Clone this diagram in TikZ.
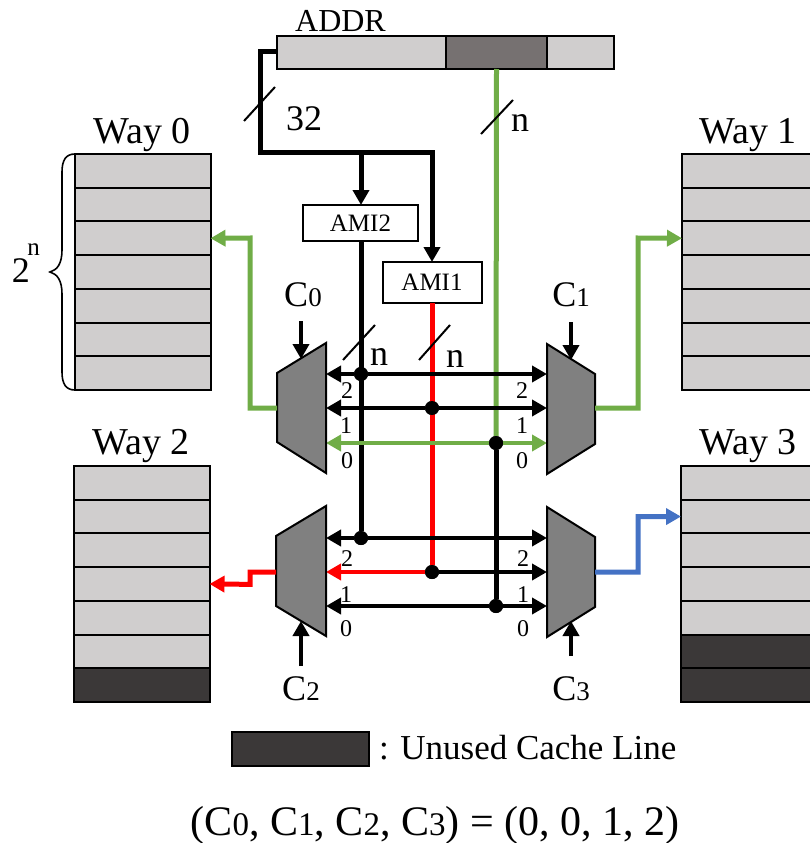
\documentclass[tikz,border=0pt]{standalone}
\usepackage{fontspec}
\setmainfont{Liberation Serif}
\usetikzlibrary{arrows.meta}
\newcommand\fsz[1]{\fontsize{#1}{#1}\selectfont}
\definecolor{lightcell}{HTML}{D0CECE}
\definecolor{midcell}{HTML}{767171}
\definecolor{darkcell}{HTML}{3B3838}
\definecolor{muxgray}{HTML}{808080}
\definecolor{lgreen}{HTML}{70AD47}
\definecolor{lblue}{HTML}{4472C4}
\tikzset{
  cell/.style={draw=black,fill=lightcell,line width=2pt,minimum width=135.5pt,minimum height=33.7pt,inner sep=0pt,outer sep=0pt,anchor=north west},
  unused/.style={cell,fill=darkcell},
  mux/.style={draw=black,fill=muxgray,line width=2pt,line join=miter},
  box/.style={draw=black,fill=white,line width=2pt,inner sep=0pt,outer sep=0pt,font=\fsz{25}},
  wire/.style={line width=4pt,line join=miter},
  feed/.style={line width=5pt,line join=miter},
  tri/.style={-{Triangle[length=15pt,width=16pt]}},
  slash/.style={line width=2pt},
  junction/.style={circle,fill=black,minimum size=14pt,inner sep=0pt,outer sep=0pt},
  lbl/.style={inner sep=0pt,outer sep=0pt},
  num/.style={lbl,font=\fsz{24}},
  big/.style={lbl,font=\fsz{36}}
}
\begin{document}
\begin{tikzpicture}[x=1pt,y=-1pt]
\clip (0,0) rectangle (810,843);
% ADDR
\node[cell,minimum width=169pt,minimum height=33pt] (addrA) at (277,36) {};
\node[cell,fill=midcell,minimum width=101pt,minimum height=33pt] (addrB) at (446,36) {};
\node[cell,minimum width=67pt,minimum height=33pt] (addrC) at (547,36) {};
\node[lbl,font=\fsz{32},anchor=base] at (340.5,32) {ADDR};
% Ways
\foreach \i in {0,...,6} {
  \node[cell] (wa\i) at (75,{154+33.7*\i}) {};
  \node[cell] (wb\i) at (682,{154+33.7*\i}) {};
}
\foreach \i in {0,...,5} \node[cell] (wc\i) at (74,{466+33.7*\i}) {};
\node[unused] (wc6) at (74,{466+33.7*6}) {};
\foreach \i in {0,...,4} \node[cell] (wd\i) at (681,{466+33.7*\i}) {};
\foreach \i in {5,6} \node[unused] (wd\i) at (681,{466+33.7*\i}) {};
\node[big,font=\fsz{38},anchor=base] at (142,143) {Way 0};
\node[big,font=\fsz{38},anchor=base] at (748,143) {Way 1};
\node[big,font=\fsz{38},anchor=base] at (141,454) {Way 2};
\node[big,font=\fsz{38},anchor=base] at (748,454) {Way 3};
% brace
\draw[line width=1.6pt] (75,154) .. controls (66,154) and (62,160) .. (62,172) -- (62,250)
  .. controls (62,264) and (57,270) .. (50,272) .. controls (57,274) and (62,280) .. (62,294)
  -- (62,372) .. controls (62,384) and (66,390) .. (75,390);
\node[big,anchor=base] at (21,282) {2};
\node[lbl,font=\fsz{25},anchor=base] at (33.5,255) {n};
% coordinates
\coordinate (bend0) at (260,52);
\coordinate (bend1) at (260,152);
\coordinate (bend2) at (432,152);
\coordinate (split) at (361,152);
\coordinate (m0o) at (277,408);
\coordinate (m1o) at (595,408);
\coordinate (m2o) at (276,572);
\coordinate (m3o) at (595,572);
\coordinate (m0a) at (326,374); \coordinate (m0b) at (326,408); \coordinate (m0c) at (326,443);
\coordinate (m1a) at (547,374); \coordinate (m1b) at (547,408); \coordinate (m1c) at (547,443);
\coordinate (m2a) at (326,538); \coordinate (m2b) at (326,572); \coordinate (m2c) at (326,606);
\coordinate (m3a) at (547,538); \coordinate (m3b) at (547,572); \coordinate (m3c) at (547,606);
% boxes
\node[box,minimum width=115pt,minimum height=36pt] (ami2) at (360.5,223) {AMI2};
\node[box,minimum width=99pt,minimum height=41pt] (ami1) at (432,282.5) {AMI1};
% junctions
\node[junction] (j1) at (361,374) {};
\node[junction] (j2) at (432,408) {};
\node[junction] (j3) at (496,443) {};
\node[junction] (j4) at (361,538) {};
\node[junction] (j5) at (432,572) {};
\node[junction] (j6) at (496,606) {};
% top wiring
\draw[feed,tri] (addrA.west |- bend0) -- (bend0) -- (bend1) -- (bend2) -- (ami1.north);
\draw[feed,tri] (split) -- (ami2.north -| split);
% vertical feeds
\draw[feed,black] (ami2.south -| split) -- (j4);
\draw[feed,red] (ami1.south) -- (j5);
\draw[feed,lgreen] (addrB.south) -- (j3);
\draw[feed,black] (j3) -- (j6);
% buses
\draw[wire,tri] (j1) -- (m0a);
\draw[wire,tri] (j1) -- (m1a);
\draw[wire,tri] (j2) -- (m0b);
\draw[wire,tri] (j2) -- (m1b);
\draw[wire,lgreen,tri] (j3) -- (m0c);
\draw[wire,lgreen,tri] (j3) -- (m1c);
\draw[wire,tri] (j4) -- (m2a);
\draw[wire,tri] (j4) -- (m3a);
\draw[wire,red,tri] (j5) -- (m2b);
\draw[wire,tri] (j5) -- (m3b);
\draw[wire,tri] (j6) -- (m2c);
\draw[wire,tri] (j6) -- (m3c);
\node[junction] at (j1) {};
\node[junction] at (j2) {};
\node[junction] at (j3) {};
\node[junction] at (j4) {};
\node[junction] at (j5) {};
\node[junction] at (j6) {};
% muxes
\draw[mux] (277,373) -- (326,343) -- (326,473) -- (277,442) -- cycle;
\draw[mux] (547,344) -- (595,374) -- (595,444) -- (547,474) -- cycle;
\draw[mux] (276,536) -- (326,506) -- (326,636) -- (276,606) -- cycle;
\draw[mux] (547,507) -- (595,537) -- (595,607) -- (547,637) -- cycle;
% outputs
\draw[feed,lgreen,tri] (m0o) -- (250,408) -- (250,238) -- (wa2.east);
\draw[feed,lgreen,tri] (m1o) -- (638,408) -- (638,238) -- (wb2.west);
\draw[feed,red,tri] (m2o) -- (250,572) -- (250,584.35) -- (wc3.east);
\draw[feed,lblue,tri] (m3o) -- (638,572) -- (638,516.55) -- (wd1.west);
% control arrows
\coordinate (c0s) at (301,321); \coordinate (c0t) at (301,359);
\coordinate (c1s) at (571,322); \coordinate (c1t) at (571,360);
\coordinate (c2s) at (301,666); \coordinate (c2t) at (301,621);
\coordinate (c3s) at (571,656); \coordinate (c3t) at (571,621);
\draw[wire,tri] (c0s) -- (c0t);
\draw[wire,tri] (c1s) -- (c1t);
\draw[wire,tri] (c2s) -- (c2t);
\draw[wire,tri] (c3s) -- (c3t);
\node[lbl,anchor=base] at (303,306) {\fsz{36}C\fsz{27}0};
\node[lbl,anchor=base] at (571,306) {\fsz{36}C\fsz{27}1};
\node[lbl,anchor=base] at (301,700) {\fsz{36}C\fsz{27}2};
\node[lbl,anchor=base] at (571,700) {\fsz{36}C\fsz{27}3};
% bus width slashes
\draw[slash] (244,121) -- (275,87);
\draw[slash] (481,134) -- (513,100);
\draw[slash] (343,360) -- (375,325);
\draw[slash] (419,360) -- (450,325);
\node[big,anchor=base] at (304,130) {32};
\node[big,anchor=base] at (520,131) {n};
\node[big,anchor=base] at (379,365) {n};
\node[big,anchor=base] at (455,367) {n};
% input numbers
\node[num,anchor=base] at (347,398) {2};
\node[num,anchor=base] at (346,433) {1};
\node[num,anchor=base] at (347,468) {0};
\node[num,anchor=base] at (522,398) {2};
\node[num,anchor=base] at (522,433) {1};
\node[num,anchor=base] at (522,468) {0};
\node[num,anchor=base] at (347,566) {2};
\node[num,anchor=base] at (346,602) {1};
\node[num,anchor=base] at (346,636) {0};
\node[num,anchor=base] at (523,566) {2};
\node[num,anchor=base] at (523,602) {1};
\node[num,anchor=base] at (523,636) {0};
% legend
\node[unused,minimum width=137pt,minimum height=34pt] (legend) at (232,732) {};
\node[lbl,font=\fsz{35},anchor=base west] at (379,759) {: Unused Cache Line};
\node[lbl,anchor=base] at (435,835) {\fsz{42}(C\fsz{33}0\fsz{42}, C\fsz{33}1\fsz{42}, C\fsz{33}2\fsz{42}, C\fsz{33}3\fsz{42}) = (0, 0, 1, 2)};
\end{tikzpicture}
\end{document}
